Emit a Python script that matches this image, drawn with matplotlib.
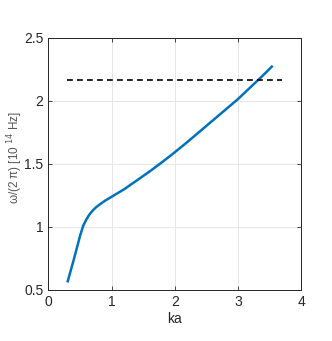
import matplotlib
matplotlib.use("Agg")
import matplotlib.pyplot as plt

ka = [0.30, 0.35, 0.40, 0.45, 0.50, 0.55, 0.60, 0.65, 0.70, 0.75, 0.80, 0.90, 1.00,
      1.20, 1.40, 1.60, 1.80, 2.00, 2.20, 2.40, 2.60, 2.80, 3.00, 3.20, 3.40, 3.55]
freq = [0.56, 0.65, 0.74, 0.835, 0.93, 1.01, 1.06, 1.10, 1.13, 1.155, 1.175, 1.21, 1.24,
        1.30, 1.37, 1.44, 1.515, 1.593, 1.675, 1.76, 1.845, 1.93, 2.015, 2.11, 2.205, 2.28]
ref_x = [0.30, 3.69]
ref_y = [2.165, 2.165]

xticks = [0, 1, 2, 3, 4]
yticks = [0.5, 1, 1.5, 2, 2.5]

plt.rcParams['font.family'] = ['Liberation Sans', 'DejaVu Sans']
fig = plt.figure(figsize=(3.32, 3.41), dpi=100)
ax = fig.add_axes([0.146, 0.1496, 0.761, 0.739])
ax.plot(ka, freq, color='#0072BD', lw=1.8, solid_capstyle='butt')
ax.plot(ref_x, ref_y, color='black', lw=1.2, ls=(0, (3.5, 2.5)))
ax.set_xlim(0, 4)
ax.set_ylim(0.5, 2.5)
ax.set_xticks(xticks)
ax.set_yticks(yticks)
ax.set_xticklabels([str(t) for t in xticks])
ax.set_yticklabels(['0.5', '1', '1.5', '2', '2.5'])
ax.grid(True, color='#e6e6e6', lw=0.7)
ax.set_axisbelow(True)
ax.tick_params(direction='in', length=3, width=0.6, colors='#262626', labelsize=10,
               top=True, right=True, labelcolor='#262626')
for s in ax.spines.values():
    s.set_color('#262626')
    s.set_linewidth(0.7)
ax.set_xlabel('ka', fontsize=10, color='#262626', labelpad=2)
ax.set_ylabel('ω/(2 π) [10 $^{14}$ Hz]', fontsize=8.4, color='#555555', va='center')
ax.yaxis.set_label_coords(-0.131, 0.524)
fig.savefig('out.png', dpi=100)
